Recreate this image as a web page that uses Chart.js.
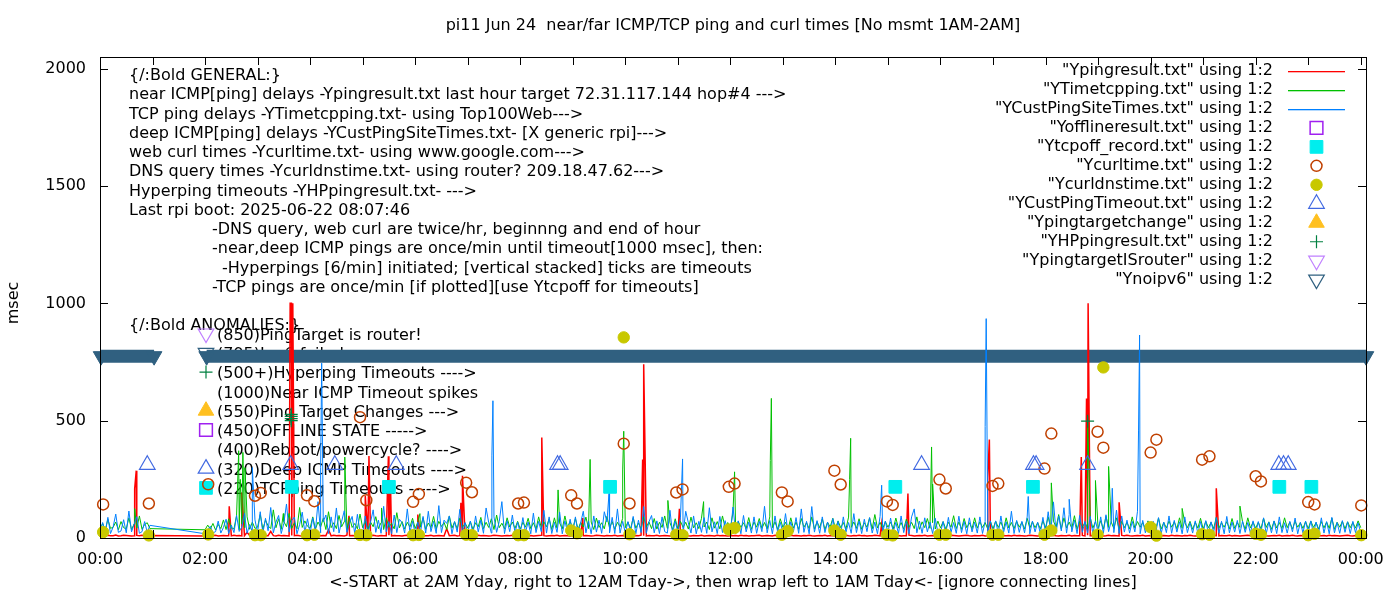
<!DOCTYPE html>
<html>
<head>
<meta charset="utf-8">
<title>pi11 ping times</title>
<script src="https://cdn.jsdelivr.net/npm/chart.js@4.4.1/dist/chart.umd.min.js"></script>
<style>
    html, body { margin: 0; padding: 0; background: #fff; }
    #wrap { width: 1400px; height: 600px; }
</style>
</head>
<body>
<div id="wrap"><canvas id="pingChart" width="1400" height="600"></canvas></div>
<script>
// ---- data (x in hours of day, y in msec) ----
const SAMPLE_MIN = 3;                       // one value every 3 minutes in the rows below
const rowHours = [0, 2, 3, 4, 5, 6, 7, 8, 9, 10, 11, 12, 13, 14, 15, 16, 17, 18, 19, 20, 21, 22, 23];

// near ICMP ping (red)
const redRows = [
    [10,11,9,12,10,10,13,9,10,12,11,10,9,10,11,10,12,9,10,11],
    [9,10,11,10,12,9,10,11,10,10,9,12,10,11,9,10,24,11,10,9],
    [10,12,9,11,10,28,10,9,12,10,11,10,9,11,10,12,10,9,10,11],
    [11,10,12,9,10,11,10,35,9,12,10,11,10,9,12,10,11,10,9,10],
    [10,9,11,10,12,10,9,11,10,10,12,9,11,10,10,9,11,12,10,10],
    [12,10,9,11,10,10,12,9,10,11,10,9,40,10,11,12,9,10,11,10],
    [10,11,10,9,12,10,11,10,9,10,12,11,10,9,10,11,10,12,9,10],
    [9,10,12,10,11,9,10,11,12,10,9,10,11,10,12,9,10,11,10,9],
    [11,10,9,12,10,11,10,9,10,12,11,10,9,11,10,10,12,9,10,11],
    [10,12,10,9,11,10,12,10,9,11,10,10,12,9,10,11,10,9,11,10],
    [9,11,10,12,10,9,11,10,10,12,9,10,11,10,9,12,10,11,10,9],
    [10,10,11,9,12,10,11,9,10,10,11,12,9,10,11,10,9,12,10,11],
    [11,9,10,12,10,11,10,9,11,10,12,10,9,10,11,10,12,9,11,10],
    [10,11,9,10,12,10,9,11,10,12,10,11,9,10,10,12,11,9,10,11],
    [9,10,12,10,11,9,10,10,12,11,9,10,11,10,12,9,10,11,10,10],
    [11,10,10,9,12,11,10,9,10,11,12,10,9,11,10,10,12,9,10,11],
    [10,12,9,11,10,10,11,9,12,10,11,10,9,10,12,11,10,9,10,11],
    [9,10,11,12,10,9,11,10,10,12,9,11,10,10,11,9,12,10,11,10],
    [10,11,9,10,12,10,11,10,9,11,10,12,10,9,10,11,10,12,9,10],
    [11,10,12,9,10,11,10,9,12,10,11,10,9,11,10,12,10,9,10,11],
    [10,9,11,10,12,10,9,11,10,10,12,9,11,10,9,10,11,12,10,10],
    [9,11,10,12,10,9,10,11,10,12,9,10,11,10,12,10,9,11,10,9],
    [10,12,11,9,10,10,11,9,12,10,11,10,9,10,11,12,10,9,11,10]
];
const redLast = 10;
const redSpikes = [
    [0.66, 210], [0.69, 287], [2.46, 135], [2.70, 194],
    [3.62, 1000], [3.645, 1000], [3.67, 1000], [4.74, 95],
    [5.05, 180], [5.12, 349], [5.49, 348], [5.53, 230], [6.05, 100],
    [6.87, 150], [6.90, 265], [8.41, 428], [9.19, 85],
    [10.33, 335], [10.35, 740], [11.03, 125], [14.88, 60], [15.38, 190],
    [16.90, 255], [16.93, 420], [18.68, 345], [18.78, 595], [18.81, 1000],
    [19.40, 152], [21.25, 212]
];

// TCP ping (green)
const greenRows = [
    [38,62,33,80,41,46,68,35,70,44,39,86,36,60,42,94,37,58,65,40],
    [35,55,38,62,34,58,40,77,36,82,42,39,96,35,60,44,90,37,68,41],
    [46,100,38,76,52,40,120,44,82,37,70,48,105,41,65,39,130,45,73,50],
    [42,90,38,68,47,84,36,112,44,65,40,96,48,70,37,88,45,62,39,102],
    [44,72,37,68,48,91,40,65,36,86,46,62,39,108,43,70,38,67,47,84],
    [40,68,46,86,37,64,44,92,38,71,49,66,36,94,42,69,39,85,45,63],
    [43,70,37,65,48,88,40,67,45,82,36,98,44,63,39,86,47,68,41,71],
    [38,67,46,84,40,65,37,90,44,69,48,82,36,86,42,64,39,94,45,70],
    [41,83,38,66,47,89,40,68,36,85,45,65,39,92,43,70,37,67,48,84],
    [44,68,39,86,42,64,37,90,46,69,40,83,38,67,45,94,41,65,36,82],
    [39,71,45,67,38,89,43,65,40,84,47,68,36,86,42,70,39,94,44,66],
    [42,110,38,70,45,65,40,87,37,68,46,83,41,66,39,90,44,69,36,82],
    [45,67,39,86,42,68,37,83,46,65,40,90,38,69,44,81,36,67,47,84],
    [40,73,44,66,38,89,45,68,41,82,37,65,46,86,39,100,43,67,40,70],
    [46,68,39,85,42,66,38,81,45,67,40,90,37,69,44,83,41,65,38,72],
    [43,70,38,67,46,95,40,68,37,83,44,65,39,86,42,69,45,66,38,71],
    [39,72,45,68,37,86,43,66,40,71,46,67,38,84,42,69,44,65,39,73],
    [44,90,40,72,46,100,38,86,43,68,41,95,37,71,45,67,40,88,42,70],
    [41,74,38,92,45,68,40,86,37,71,44,67,39,90,42,70,46,66,38,73],
    [45,68,40,85,38,66,43,72,46,69,39,86,41,65,44,71,37,67,42,84],
    [38,71,44,67,40,88,42,65,46,70,39,83,41,66,45,69,37,86,43,68],
    [42,67,39,84,45,69,37,72,43,66,40,86,44,68,38,71,46,65,41,70],
    [40,72,45,66,38,70,43,68,41,85,37,67,46,71,39,69,44,66,42,73]
];
const greenLast = 44;
const greenSpikes = [
    [0.66, 125], [2.64, 372], [2.67, 250], [2.72, 365], [2.76, 300],
    [3.49, 104], [4.66, 345], [5.36, 128], [6.09, 104], [8.72, 205],
    [9.33, 335], [9.95, 290], [9.97, 455], [10.81, 160], [11.49, 155],
    [12.08, 282], [12.76, 330], [12.78, 595], [14.27, 250], [14.29, 425],
    [15.83, 388], [15.85, 230], [18.11, 235], [18.80, 520], [18.95, 245],
    [19.20, 305], [20.60, 126], [21.70, 136]
];

// deep ICMP ping (blue)
const blueRows = [
    [21,66,25,88,19,47,102,24,30,78,22,115,26,59,91,20,27,70,23,54],
    [18,34,50,22,27,72,21,45,80,19,55,23,96,28,47,105,20,58,26,77],
    [24,112,20,84,31,130,22,68,96,19,62,145,25,75,89,18,57,110,23,82],
    [20,86,26,155,22,69,98,19,90,27,128,21,71,116,24,63,92,18,101,25],
    [22,94,19,67,120,24,76,20,135,26,70,18,98,23,80,65,21,124,25,71],
    [19,68,24,92,21,114,27,71,20,138,23,76,62,94,18,70,25,122,22,66],
    [23,72,19,94,26,76,20,128,65,21,90,24,70,155,19,74,27,98,22,68],
    [20,87,25,68,18,106,23,71,27,118,21,90,19,67,24,110,18,73,26,80],
    [24,90,19,65,114,22,72,18,94,25,76,20,112,68,23,88,19,124,21,71],
    [21,70,26,92,18,76,23,134,20,69,96,22,73,19,90,27,21,118,18,72],
    [25,88,19,114,65,21,94,18,71,24,87,20,129,26,69,19,92,23,74,27],
    [19,132,24,73,18,96,26,68,21,90,20,71,27,135,22,75,18,94,25,67],
    [23,104,19,69,26,87,20,124,24,71,18,134,25,74,20,90,23,68,19,83],
    [21,71,18,90,25,66,20,104,23,73,19,80,27,87,21,68,18,92,22,72],
    [20,85,25,67,19,94,23,71,18,90,124,22,72,20,86,26,68,19,84,24],
    [22,70,19,88,24,66,20,93,23,71,18,86,26,68,21,90,19,70,24,73],
    [25,73,20,94,23,69,21,114,19,75,24,71,22,90,18,72,26,67,20,88],
    [23,112,27,154,24,94,30,129,21,100,26,76,19,96,24,71,21,92,18,73],
    [26,90,20,99,27,73,23,119,19,94,25,76,21,71,26,114,18,75,22,70],
    [19,71,24,87,18,68,23,94,20,75,25,69,18,90,23,66,21,73,19,70],
    [23,74,19,69,24,87,20,71,18,92,22,68,25,75,19,72,24,66,21,73],
    [20,70,25,86,18,68,22,73,19,90,23,65,21,71,26,85,18,67,22,72],
    [24,73,19,68,25,86,21,70,18,88,22,66,20,74,24,69,19,71,23,65]
];
const blueLast = 22;
const blueSpikes = [
    [2.90, 300], [4.20, 300], [4.22, 745], [7.46, 350], [7.48, 585],
    [9.69, 190], [11.09, 337], [14.88, 225], [16.85, 475], [16.87, 935],
    [17.67, 177], [18.45, 165], [19.27, 212], [19.77, 460], [19.79, 865]
];

// web curl (open circles) and DNS query (filled circles), twice an hour
const curlHours = [0.06, 0.93, 2.06, 2.95, 3.06, 3.94, 4.08, 4.95, 5.07, 5.96, 6.07, 6.97, 7.08, 7.96, 8.07,
    8.97, 9.08, 9.97, 10.08, 10.97, 11.09, 11.97, 12.08, 12.98, 13.09, 13.98, 14.10, 14.98, 15.09, 15.98,
    16.10, 16.99, 17.10, 17.98, 18.11, 18.99, 19.10, 20.00, 20.11, 20.98, 21.12, 22.00, 22.10, 23.00, 23.12, 24.01];
const curlMs = [143, 147, 229, 180, 192, 182, 157, 515, 161, 154, 187, 236, 195, 147, 151,
    182, 147, 402, 147, 194, 207, 218, 232, 194, 156, 287, 228, 156, 141, 249,
    211, 222, 232, 296, 445, 453, 385, 364, 419, 334, 348, 263, 241, 153, 143, 139];
const dnsMs = [25, 11, 15, 12, 12, 12, 14, 13, 12, 12, 13, 14, 12, 12, 12,
    32, 20, 855, 16, 14, 12, 36, 43, 14, 30, 32, 14, 14, 11, 14,
    14, 14, 14, 14, 32, 14, 727, 46, 10, 16, 14, 18, 14, 12, 18, 12];

// deep ping timeouts, TCP ping timeouts, hyperping timeouts
const custTimeoutHours = [0.90, 3.63, 4.47, 5.64, 8.71, 8.76, 15.64, 17.77, 17.82, 18.80, 22.44, 22.53, 22.62];
const custTimeoutMs = [312, 312, 312, 312, 312, 312, 312, 312, 312, 312, 312, 312, 312];
const tcpOffHours = [3.65, 5.50, 9.71, 15.14, 17.76, 22.45, 23.06];
const tcpOffMs = [218, 218, 218, 218, 218, 218, 218];
const hpHours = [3.64, 3.64, 3.64, 3.64, 18.80];
const hpMs = [500, 509, 518, 527, 498];

// nothing recorded today
const offlineHours = [];
const targetChangeHours = [];
const isRouterHours = [];

// no ipv6: spans of consecutive minutes
const noIpv6Spans = [[0.02, 1.03], [2.03, 24.1]];
const noIpv6Ms = 775;

const xTickHours = [0, 2, 4, 6, 8, 10, 12, 14, 16, 18, 20, 22, 24];
const yTickMs = [0, 500, 1000, 1500, 2000];

const titleText = 'pi11 Jun 24  near/far ICMP/TCP ping and curl times [No msmt 1AM-2AM]';
const xTitle = '<-START at 2AM Yday, right to 12AM Tday->, then wrap left to 1AM Tday<- [ignore connecting lines]';
const yTitle = 'msec';

const generalNotes = [
    [0, '{/:Bold GENERAL:}'],
    [0, 'near ICMP[ping] delays -Ypingresult.txt last hour target 72.31.117.144 hop#4 --->'],
    [0, 'TCP ping delays -YTimetcpping.txt- using Top100Web--->'],
    [0, 'deep ICMP[ping] delays -YCustPingSiteTimes.txt- [X generic rpi]--->'],
    [0, 'web curl times -Ycurltime.txt- using www.google.com--->'],
    [0, 'DNS query times -Ycurldnstime.txt- using router? 209.18.47.62--->'],
    [0, 'Hyperping timeouts -YHPpingresult.txt- --->'],
    [0, 'Last rpi boot: 2025-06-22 08:07:46'],
    [83, '-DNS query, web curl are twice/hr, beginnng and end of hour'],
    [83, '-near,deep ICMP pings are once/min until timeout[1000 msec], then:'],
    [93, '-Hyperpings [6/min] initiated; [vertical stacked] ticks are timeouts'],
    [83, '-TCP pings are once/min [if plotted][use Ytcpoff for timeouts]'],
    [0, ''],
    [0, '{/:Bold ANOMALIES:}']
];
const anomalyKey = [
    ['isRouter', '(850)PingTarget is router!'],
    ['noIpv6', '(795)Ipv6 failed'],
    ['hp', '(500+)Hyperping Timeouts ---->'],
    [null, '(1000)Near ICMP Timeout spikes'],
    ['targetChange', '(550)Ping Target Changes --->'],
    ['offline', '(450)OFFLINE STATE ----->'],
    [null, '(400)Reboot/powercycle? ---->'],
    ['custTimeout', '(320)Deep ICMP Timeouts ---->'],
    ['tcpOff', '(220)TCPping Timeouts ----->']
];

// ---- styles ----
const FONT_FAMILY = "'DejaVu Sans', sans-serif";
const FONT_SIZE = 16;
const CLEAR = 'rgba(0,0,0,0)';

const MARKS = {
    offline:      { pointStyle: 'rect', pointRadius: 9, pointRotation: 0, pointBorderWidth: 1.5, pointBorderColor: '#a020f0', pointBackgroundColor: CLEAR },
    tcpOff:       { pointStyle: 'rect', pointRadius: 9, pointRotation: 0, pointBorderWidth: 1, pointBorderColor: '#00eeee', pointBackgroundColor: '#00eeee' },
    curl:         { pointStyle: 'circle', pointRadius: 5.5, pointRotation: 0, pointBorderWidth: 1.5, pointBorderColor: '#c04000', pointBackgroundColor: CLEAR },
    dns:          { pointStyle: 'circle', pointRadius: 5.7, pointRotation: 0, pointBorderWidth: 1, pointBorderColor: '#c8c800', pointBackgroundColor: '#c8c800' },
    custTimeout:  { pointStyle: 'triangle', pointRadius: 9, pointRotation: 0, pointBorderWidth: 1.2, pointBorderColor: '#4169e1', pointBackgroundColor: CLEAR },
    targetChange: { pointStyle: 'triangle', pointRadius: 9, pointRotation: 0, pointBorderWidth: 1, pointBorderColor: '#ffc020', pointBackgroundColor: '#ffc020' },
    hp:           { pointStyle: 'cross', pointRadius: 6.5, pointRotation: 0, pointBorderWidth: 1.2, pointBorderColor: '#008040', pointBackgroundColor: CLEAR },
    isRouter:     { pointStyle: 'triangle', pointRadius: 9, pointRotation: 180, pointBorderWidth: 1.2, pointBorderColor: '#c080ff', pointBackgroundColor: CLEAR },
    noIpv6:       { pointStyle: 'triangle', pointRadius: 9, pointRotation: 180, pointBorderWidth: 1.2, pointBorderColor: '#306080', pointBackgroundColor: CLEAR }
};

// ---- build point tables ----
function gridSeries(rows, last, spikes) {
    const pts = [];
    rows.forEach((row, r) => {
        row.forEach((v, i) => pts.push({ x: rowHours[r] + i * SAMPLE_MIN / 60, y: v }));
    });
    pts.push({ x: 24, y: last });
    spikes.forEach(([x, y]) => pts.push({ x, y }));
    return pts.sort((a, b) => a.x - b.x);
}

function pairs(xs, ys) {
    return xs.map((x, i) => ({ x, y: ys[i] }));
}

function spanPoints(spans, level) {
    const pts = [];
    spans.forEach(([a, b], i) => {
        if (i > 0) pts.push({ x: (spans[i - 1][1] + a) / 2, y: null });
        pts.push({ x: a, y: level }, { x: b, y: level });
    });
    return pts;
}

function lineSet(label, data, color, order, width) {
    return { label, data, showLine: true, borderColor: color, backgroundColor: color, borderWidth: width || 1,
             pointRadius: 0, tension: 0, order, clip: false, keyColor: color };
}

function markSet(label, data, mark, order) {
    return Object.assign({ label, data, showLine: false, order, clip: false, markKey: mark }, MARKS[mark]);
}

const datasets = [
    lineSet('"Ypingresult.txt" using 1:2', gridSeries(redRows, redLast, redSpikes), '#ff0000', 50, 1.5),
    lineSet('"YTimetcpping.txt" using 1:2', gridSeries(greenRows, greenLast, greenSpikes), '#00c000', 49),
    lineSet('"YCustPingSiteTimes.txt" using 1:2', gridSeries(blueRows, blueLast, blueSpikes), '#0080ff', 48),
    markSet('"Yofflineresult.txt" using 1:2', pairs(offlineHours, []), 'offline', 10),
    markSet('"Ytcpoff_record.txt" using 1:2', pairs(tcpOffHours, tcpOffMs), 'tcpOff', 9),
    markSet('"Ycurltime.txt" using 1:2', pairs(curlHours, curlMs), 'curl', 8),
    markSet('"Ycurldnstime.txt" using 1:2', pairs(curlHours, dnsMs), 'dns', 7),
    markSet('"YCustPingTimeout.txt" using 1:2', pairs(custTimeoutHours, custTimeoutMs), 'custTimeout', 6),
    markSet('"Ypingtargetchange" using 1:2', pairs(targetChangeHours, []), 'targetChange', 5),
    markSet('"YHPpingresult.txt" using 1:2', pairs(hpHours, hpMs), 'hp', 4),
    markSet('"YpingtargetISrouter" using 1:2', pairs(isRouterHours, []), 'isRouter', 3),
    Object.assign(markSet('"Ynoipv6" using 1:2', spanPoints(noIpv6Spans, noIpv6Ms), 'noIpv6', 100), {
        showLine: true, spanGaps: false, borderColor: '#306080', borderWidth: 13, borderCapStyle: 'butt',
        pointBackgroundColor: '#306080', pointBorderWidth: 1
    })
];

// ---- drawing helpers ----
function drawMark(ctx, m, x, y) {
    const r = m.pointRadius;
    const rot = (m.pointRotation || 0) * Math.PI / 180;
    ctx.save();
    ctx.lineWidth = m.pointBorderWidth;
    ctx.strokeStyle = m.pointBorderColor;
    ctx.fillStyle = m.pointBackgroundColor;
    ctx.beginPath();
    if (m.pointStyle === 'circle') {
        ctx.arc(x, y, r, 0, Math.PI * 2);
    } else if (m.pointStyle === 'rect') {
        const s = r * Math.SQRT1_2;
        ctx.rect(x - s, y - s, 2 * s, 2 * s);
    } else if (m.pointStyle === 'triangle') {
        for (let k = 0; k < 3; k++) {
            const a = rot + k * Math.PI * 2 / 3;
            const px = x + Math.sin(a) * r, py = y - Math.cos(a) * r;
            if (k === 0) ctx.moveTo(px, py); else ctx.lineTo(px, py);
        }
        ctx.closePath();
    } else if (m.pointStyle === 'cross') {
        ctx.moveTo(x, y - r); ctx.lineTo(x, y + r);
        ctx.moveTo(x - r, y); ctx.lineTo(x + r, y);
    }
    if (m.pointStyle !== 'cross') ctx.fill();
    ctx.stroke();
    ctx.restore();
}

const font = `${FONT_SIZE}px ${FONT_FAMILY}`;

// notes sit under the data, frame/legend/titles on top
const notesPlugin = {
    id: 'notes',
    beforeDatasetsDraw(chart) {
        const { ctx, chartArea } = chart;
        const x0 = chartArea.left + 29;
        ctx.save();
        ctx.font = font;
        ctx.fillStyle = '#000';
        ctx.textAlign = 'left';
        ctx.textBaseline = 'middle';
        generalNotes.forEach(([dx, text], i) => ctx.fillText(text, x0 + dx, 76 + i * 19.25));
        anomalyKey.forEach(([mark, text], i) => {
            const y = 335.5 + i * 19.3;
            ctx.fillText(text, x0 + 88, y);
            if (mark) drawMark(ctx, MARKS[mark], x0 + 77, y - 2);
        });
        ctx.restore();
    }
};

const framePlugin = {
    id: 'frame',
    afterDatasetsDraw(chart) {
        const { ctx, chartArea, scales } = chart;
        const { left, right, top, bottom } = chartArea;
        ctx.save();
        ctx.strokeStyle = '#000';
        ctx.lineWidth = 1;
        ctx.beginPath();
        for (let h = 0; h <= 24; h++) {
            const px = Math.round(scales.x.getPixelForValue(h)) + 0.5;
            ctx.moveTo(px, bottom); ctx.lineTo(px, bottom - 8);
            ctx.moveTo(px, top); ctx.lineTo(px, top + 8);
        }
        yTickMs.forEach(v => {
            const py = Math.round(scales.y.getPixelForValue(v)) + 0.5;
            ctx.moveTo(left, py); ctx.lineTo(left + 8, py);
            ctx.moveTo(right, py); ctx.lineTo(right - 8, py);
        });
        ctx.stroke();
        ctx.strokeRect(left + 0.5, top + 0.5, right - left, bottom - top);

        // key, top right
        ctx.font = font;
        ctx.textBaseline = 'middle';
        ctx.textAlign = 'right';
        chart.data.datasets.forEach((ds, i) => {
            const y = 71 + i * 18.97;
            ctx.fillStyle = '#000';
            ctx.fillText(ds.label, right - 93, y);
            if (ds.markKey) {
                drawMark(ctx, MARKS[ds.markKey], right - 49.5, y);
            } else {
                ctx.fillStyle = ds.keyColor;
                ctx.fillRect(right - 78, Math.round(y), 57, 1.3);
            }
        });

        // titles
        const cx = (left + right) / 2;
        ctx.fillStyle = '#000';
        ctx.textAlign = 'center';
        ctx.fillText(titleText, cx, 26);
        ctx.fillText(xTitle, cx, 583);
        ctx.translate(14, 303);
        ctx.rotate(-Math.PI / 2);
        ctx.fillText(yTitle, 0, 0);
        ctx.restore();
    }
};

Chart.defaults.font.family = FONT_FAMILY;
Chart.defaults.font.size = FONT_SIZE;
Chart.defaults.color = '#000';

new Chart(document.getElementById('pingChart'), {
    type: 'scatter',
    data: { datasets },
    options: {
        responsive: false,
        animation: false,
        devicePixelRatio: 1,
        events: [],
        layout: { padding: { top: 57, right: 34, left: 0, bottom: 0 } },
        plugins: {
            legend: { display: false },
            tooltip: { enabled: false },
            title: { display: false }
        },
        scales: {
            x: {
                type: 'linear',
                min: 0,
                max: 24.1,
                afterBuildTicks: axis => { axis.ticks = xTickHours.map(v => ({ value: v })); },
                afterFit: axis => { axis.height = 62; },
                ticks: {
                    padding: 12,
                    maxRotation: 0,
                    autoSkip: false,
                    callback: v => String(Math.round(v) % 24).padStart(2, '0') + ':00'
                },
                grid: { display: false, drawTicks: false },
                border: { display: false }
            },
            y: {
                type: 'linear',
                min: 0,
                max: 2050,
                afterBuildTicks: axis => { axis.ticks = yTickMs.map(v => ({ value: v })); },
                afterFit: axis => { axis.width = 100; },
                ticks: {
                    padding: 14,
                    callback: v => String(v)
                },
                grid: { display: false, drawTicks: false },
                border: { display: false }
            }
        }
    },
    plugins: [notesPlugin, framePlugin]
});
</script>
</body>
</html>
